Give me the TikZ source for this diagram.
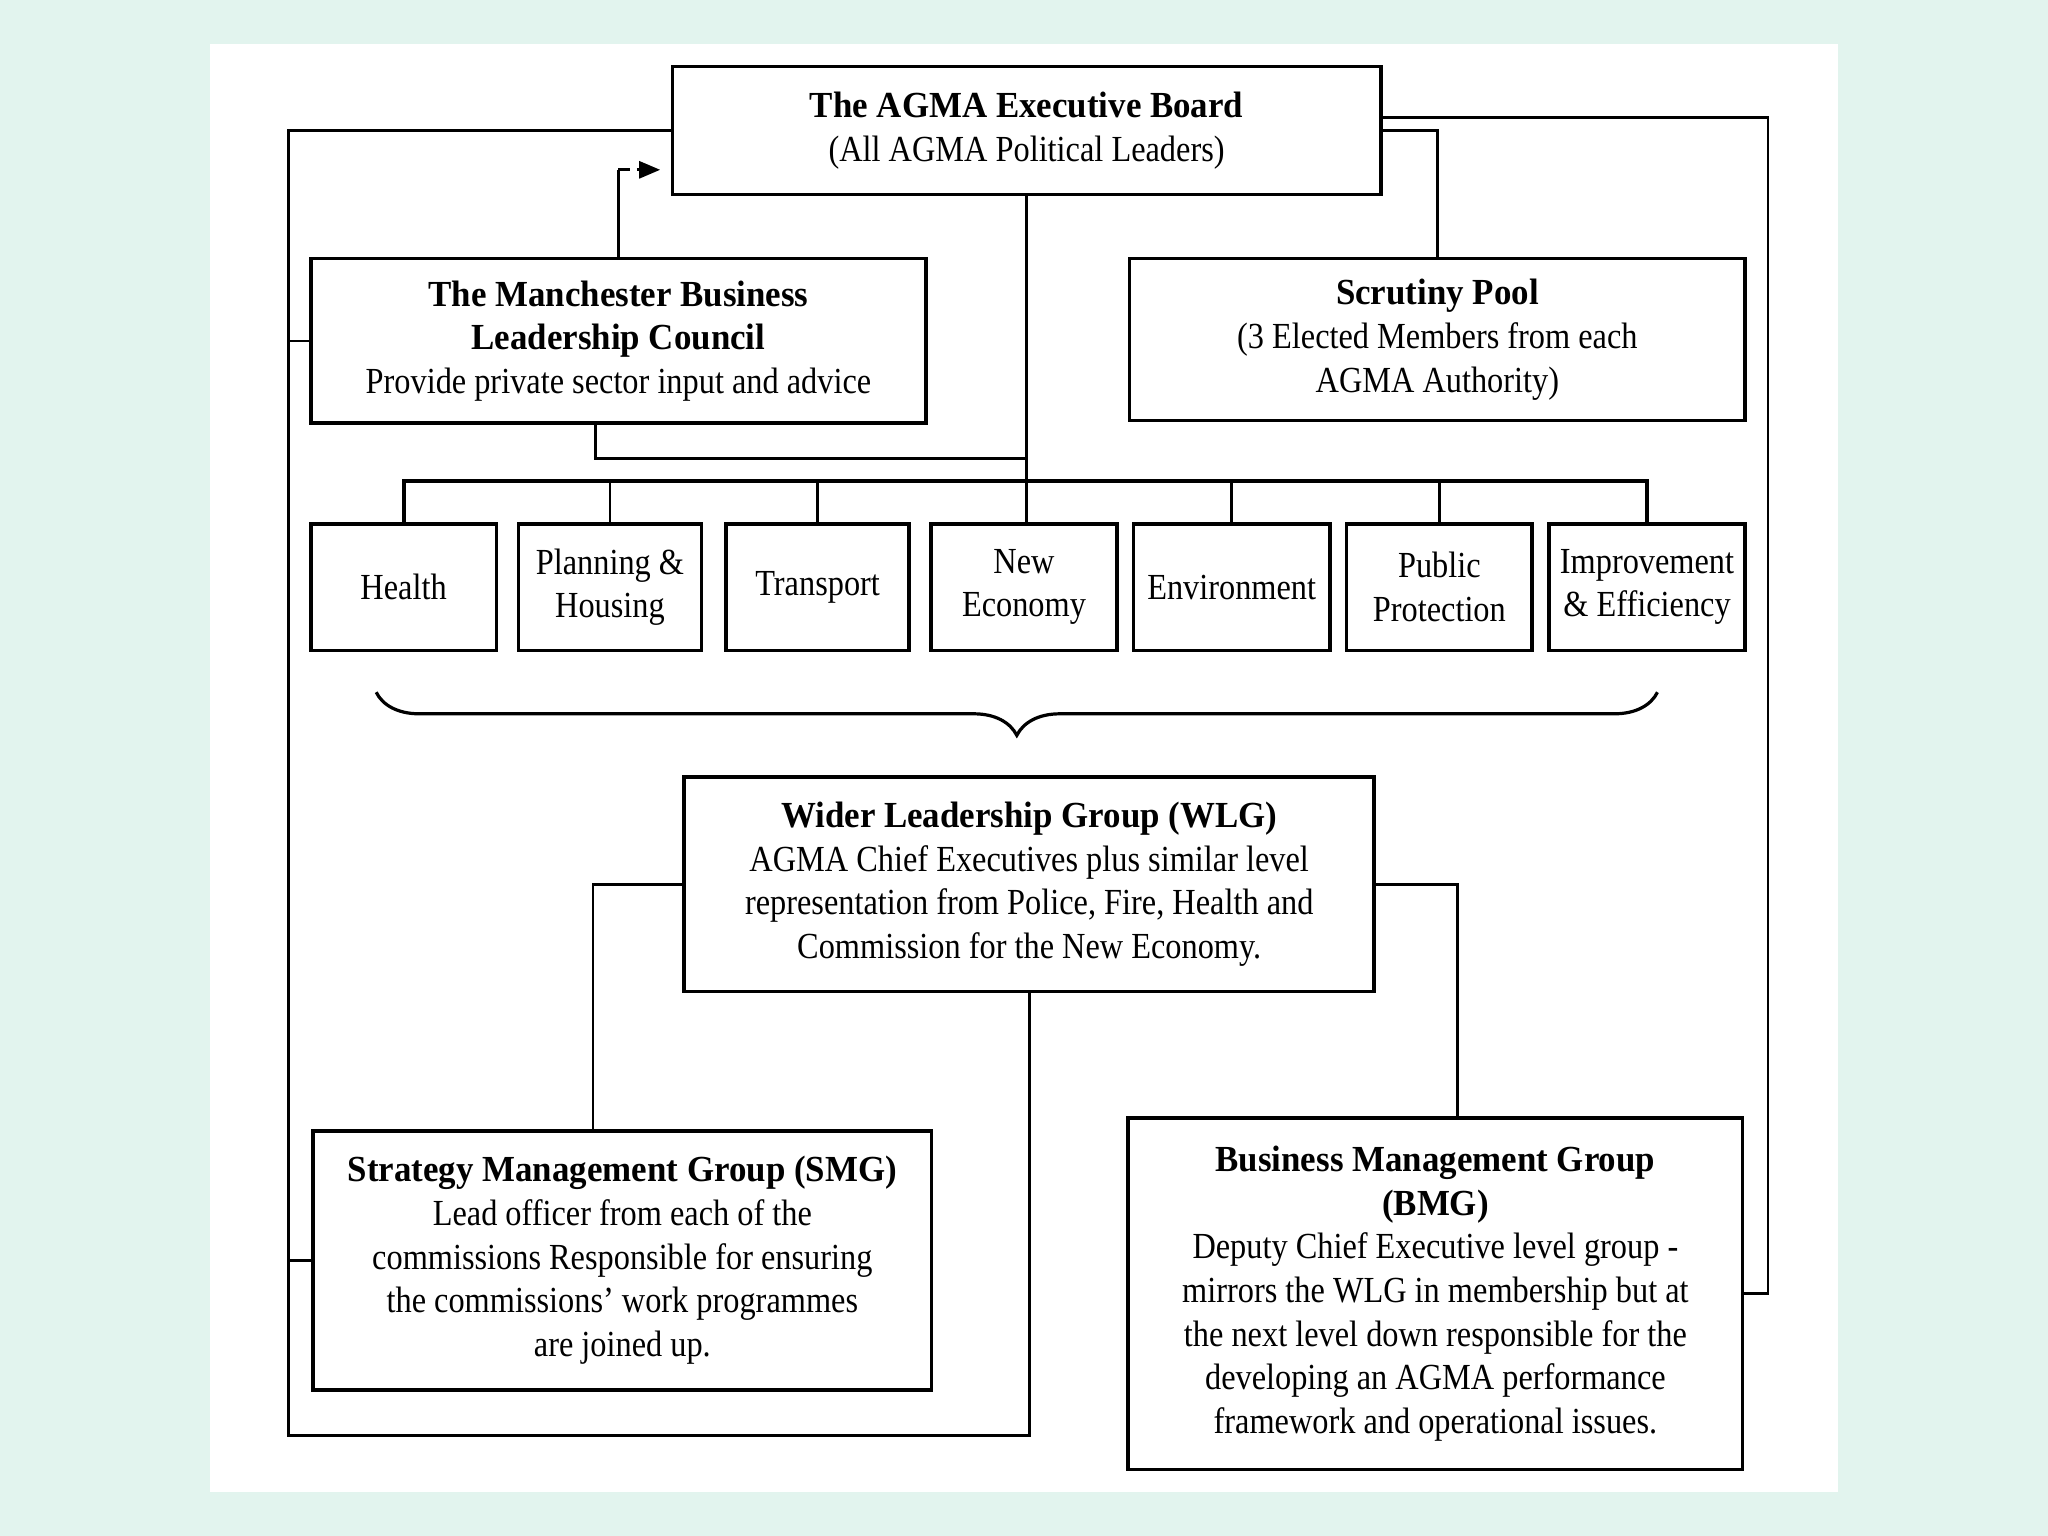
\documentclass[tikz,border=0pt]{standalone}
\usepackage{fontspec}
\setmainfont[FakeStretch=0.88, BoldFeatures={FakeStretch=0.95}]{Liberation Serif}
\usetikzlibrary{arrows.meta}
\usetikzlibrary{decorations.pathreplacing}
\definecolor{mint}{HTML}{E2F4EE}

\tikzset{
	box/.style={draw, line width=0.8pt, inner sep=0pt, align=center,
		font=\fontsize{8}{9.5}\selectfont},
	link/.style={line width=0.6pt},
}

\begin{document}
\begin{tikzpicture}
	[x=0.01cm, y=-0.01cm,
	>={Triangle[length=0.16cm,width=0.13cm]}]
	
	% background
	\fill [mint] (0,0) rectangle (1568,1176);
	\fill [white] (161,34) rectangle (1407,1142);
	
	% nodes
	\node [box, minimum width=5.42cm, minimum height=0.98cm] (exec) at (786,100) {\textbf{The AGMA Executive Board}\\(All AGMA Political Leaders)};
	\node [box, minimum width=4.71cm, minimum height=1.26cm] (mblc) at (473.5,261) {\textbf{The Manchester Business}\\\textbf{Leadership Council}\\Provide private sector input and advice};
	\node [box, minimum width=4.71cm, minimum height=1.24cm] (scrutiny) at (1100.5,260) {\textbf{Scrutiny Pool}\\(3 Elected Members from each\\AGMA Authority)};
	
	\node [box, minimum width=1.42cm, minimum height=0.97cm] (health) at (309,449.5) {Health};
	\node [box, minimum width=1.40cm, minimum height=0.97cm] (plan) at (467,449.5) {Planning \&\\Housing};
	\node [box, minimum width=1.40cm, minimum height=0.97cm] (trans) at (626,449.5) {Transport};
	\node [box, minimum width=1.42cm, minimum height=0.97cm] (neweco) at (784,449.5) {New\\Economy};
	\node [box, minimum width=1.50cm, minimum height=0.97cm] (env) at (943,449.5) {Environment};
	\node [box, minimum width=1.42cm, minimum height=0.97cm] (public) at (1102,449.5) {Public\\Protection};
	\node [box, minimum width=1.50cm, minimum height=0.97cm] (impr) at (1261,449.5) {Improvement\\\& Efficiency};
	
	\node [box, minimum width=5.28cm, minimum height=1.64cm] (wlg) at (788,677) {\textbf{Wider Leadership Group (WLG)}\\AGMA Chief Executives plus similar level\\representation from Police, Fire, Health and\\Commission for the New Economy.};
	\node [box, minimum width=4.73cm, minimum height=1.98cm] (smg) at (476.5,965) {\textbf{Strategy Management Group (SMG)}\\Lead officer from each of the\\commissions Responsible for ensuring\\the commissions' work programmes\\are joined up.};
	\node [box, minimum width=4.70cm, minimum height=2.69cm] (bmg) at (1099,990.5) {\textbf{Business Management Group}\\\textbf{(BMG)}\\Deputy Chief Executive level group -\\mirrors the WLG in membership but at\\the next level down responsible for the\\developing an AGMA performance\\framework and operational issues.};
	
	% helper points
	\coordinate (bus) at (787,368);
	\coordinate (mjoin) at (787,351);
	\coordinate (loopsw) at (221,1099);
	\coordinate (arr) at ([yshift=-0.3cm]exec.west);
	
	% board to commissions
	\draw [link] (exec.south) -- (exec.south |- neweco.north);
	\draw [link, line width=0.9pt] (health.north) |- (bus) -| (impr.north);
	\draw [link] (plan.north) -- (plan.north |- bus);
	\draw [link] (trans.north) -- (trans.north |- bus);
	\draw [link] (env.north) -- (env.north |- bus);
	\draw [link] (public.north) -- (public.north |- bus);
	\draw [link] ([xshift=-0.175cm]mblc.south) |- (mjoin);
	
	% business council to board
	\draw [link] (mblc.north) -- (mblc.north |- arr);
	\draw [link, dash pattern=on 2.5pt off 1.5pt, ->, shorten >=0.08cm] (mblc.north |- arr) -- (arr);
	
	% outer loops
	\draw [link] (exec.west) -| (loopsw) -| (wlg.south);
	\draw [link] (mblc.west) -- (mblc.west -| loopsw);
	\draw [link] (smg.west) -- (smg.west -| loopsw);
	\draw [link] ([yshift=0.1cm]exec.east) -| ([xshift=0.18cm]bmg.east) -- (bmg.east);
	\draw [link] (exec.east) -| (scrutiny.north);
	
	% wider group to management groups
	\draw [link] (wlg.west) -| ([xshift=-0.225cm]smg.north);
	\draw [link] (wlg.east) -| ([xshift=0.17cm]bmg.north);
	
	% brace
	\draw [decorate, decoration={brace, amplitude=0.33cm}, line width=0.7pt] (1269,530) -- (288,530);
\end{tikzpicture}
\end{document}
